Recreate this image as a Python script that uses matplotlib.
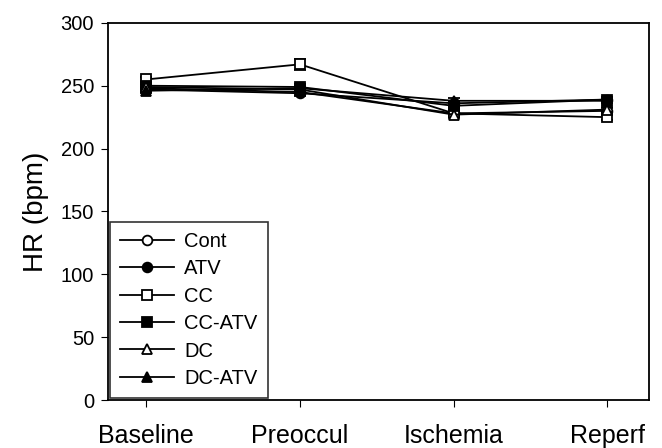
import numpy as np
import matplotlib.pyplot as plt

plt.rcParams['font.family'] = ['Liberation Sans', 'DejaVu Sans']

phases = ['Baseline', 'Preoccul', 'Ischemia', 'Reperf']

# HR values (bpm)
cont = [248, 245, 228, 230]
atv = [247, 244, 236, 239]
cc = [255, 267, 228, 225]
cc_atv = [250, 249, 234, 239]
dc = [249, 247, 227, 231]
dc_atv = [246, 248, 238, 238]

cont_err = [2, 2, 2, 2]
atv_err = [2, 2, 2, 2]
cc_err = [2, 4.5, 2, 2]
cc_atv_err = [2, 2, 2, 2]
dc_err = [2, 2, 2, 2]
dc_atv_err = [2, 2, 2, 2]

series = [
    ('Cont', cont, cont_err, 'o', 'white'),
    ('ATV', atv, atv_err, 'o', 'black'),
    ('CC', cc, cc_err, 's', 'white'),
    ('CC-ATV', cc_atv, cc_atv_err, 's', 'black'),
    ('DC', dc, dc_err, '^', 'white'),
    ('DC-ATV', dc_atv, dc_atv_err, '^', 'black'),
]

fig = plt.figure(figsize=(6.62, 4.48), dpi=100)
ax = fig.add_axes([0.163, 0.107, 0.817, 0.842])

x = np.arange(len(phases))
for name, vals, err, mk, fc in series:
    ax.errorbar(x, vals, yerr=err, color='black', lw=1.3, marker=mk,
                markersize=7, markerfacecolor=fc, markeredgecolor='black',
                markeredgewidth=1.3, capsize=4, capthick=1.2, elinewidth=1.2,
                label=name)

ax.set_xlim(-0.25, 3.27)
ax.set_ylim(0, 300)
ax.set_yticks(np.arange(0, 301, 50))
ax.set_xticks(x)
ax.set_xticklabels(phases, fontsize=18)
ax.tick_params(axis='y', labelsize=14.5, direction='out', length=5, pad=5)
ax.tick_params(axis='x', direction='out', length=5, pad=12)
ax.set_ylabel('HR (bpm)', fontsize=20, labelpad=8)
for s in ax.spines.values():
    s.set_linewidth(1.3)

# legend with plain markers, no error bars
handles = [plt.Line2D([], [], color='black', lw=1.3, marker=mk, markersize=7,
                      markerfacecolor=fc, markeredgecolor='black',
                      markeredgewidth=1.3)
           for name, vals, err, mk, fc in series]
leg = ax.legend(handles, [s[0] for s in series], loc='lower left',
                fontsize=14.5, frameon=True, fancybox=False, borderaxespad=0.1,
                handlelength=2.7, labelspacing=0.42, borderpad=0.5,
                handletextpad=0.5)
leg.get_frame().set_edgecolor('black')
leg.get_frame().set_linewidth(1.2)

fig.savefig('out.png', dpi=100)
